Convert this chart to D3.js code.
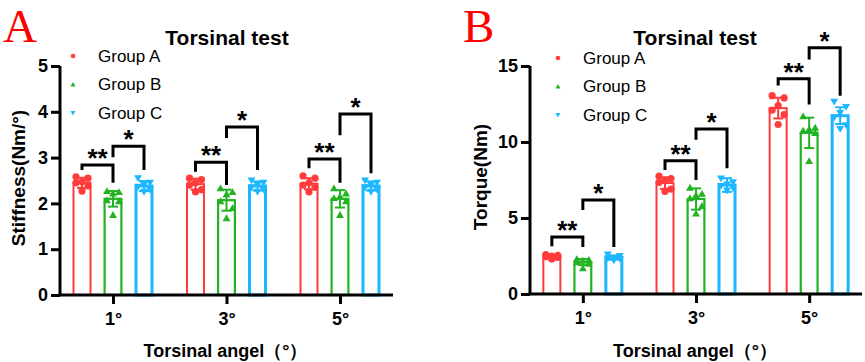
<!DOCTYPE html>
<html><head><meta charset="utf-8">
<script src="https://cdn.jsdelivr.net/npm/d3@7"></script>
<style>
html,body{margin:0;padding:0;background:#fff;}
svg{display:block;font-family:"Liberation Sans",Arial,sans-serif;}
</style></head>
<body><svg id="chart" width="865" height="362"></svg>
<script>
// ---------- data ----------
const categories = ["1°", "3°", "5°"];
const groups = ["Group A", "Group B", "Group C"];
const groupColors = ["#ff3b3b", "#22b322", "#1cb7ff"];

// Panel A: stiffness (Nm/°)
const stiffnessTicks = [0, 1, 2, 3, 4, 5];
const stiffnessMeanA = [2.45, 2.42, 2.43];
const stiffnessMeanB = [2.10, 2.07, 2.10];
const stiffnessMeanC = [2.38, 2.38, 2.38];
const stiffnessSdA = [0.11, 0.12, 0.12];
const stiffnessSdB = [0.17, 0.23, 0.19];
const stiffnessSdC = [0.11, 0.10, 0.10];
const stiffnessPointsA = [[2.58, 2.55, 2.47, 2.45, 2.38, 2.27], [2.55, 2.52, 2.45, 2.40, 2.30, 2.25], [2.60, 2.55, 2.45, 2.40, 2.35, 2.25]];
const stiffnessPointsB = [[2.27, 2.25, 2.22, 2.07, 2.05, 1.75], [2.33, 2.25, 2.20, 2.05, 1.90, 1.68], [2.33, 2.22, 2.15, 2.12, 2.05, 1.75]];
const stiffnessPointsC = [[2.55, 2.45, 2.40, 2.36, 2.30, 2.25], [2.50, 2.45, 2.40, 2.35, 2.30, 2.25], [2.50, 2.45, 2.40, 2.35, 2.30, 2.25]];
// brackets: [category, fromGroup, toGroup, level, leftEnd, rightEnd, label]
const stiffnessBrackets = [
  [0, 0, 1, 2.84, 2.73, 2.45, "**"], [0, 1, 2, 3.25, 3.01, 2.73, "*"],
  [1, 0, 1, 2.90, 2.69, 2.40, "**"], [1, 1, 2, 3.67, 3.43, 2.73, "*"],
  [2, 0, 1, 2.97, 2.77, 2.45, "**"], [2, 1, 2, 3.95, 3.49, 2.66, "*"]
];

// Panel B: torque (Nm)
const torqueTicks = [0, 5, 10, 15];
const torqueMeanA = [2.45, 7.30, 12.23];
const torqueMeanB = [2.10, 6.25, 10.60];
const torqueMeanC = [2.38, 7.17, 11.73];
const torqueSdA = [0.10, 0.38, 0.68];
const torqueSdB = [0.20, 0.70, 1.00];
const torqueSdC = [0.13, 0.45, 0.55];
const torquePointsA = [[2.60, 2.55, 2.50, 2.45, 2.40, 2.30], [7.75, 7.60, 7.45, 7.35, 6.90, 6.75], [13.05, 12.90, 12.40, 12.10, 11.80, 11.15]];
const torquePointsB = [[2.30, 2.25, 2.20, 2.10, 2.00, 1.70], [7.00, 6.60, 6.50, 6.30, 5.80, 5.30], [11.70, 10.95, 10.85, 10.75, 10.60, 8.75]];
const torquePointsC = [[2.60, 2.50, 2.40, 2.35, 2.30, 2.20], [7.60, 7.35, 7.20, 7.10, 6.95, 6.80], [12.65, 12.30, 11.90, 11.60, 11.10, 10.85]];
const torqueBrackets = [
  [0, 0, 1, 3.75, 3.14, 3.09, "**"], [0, 1, 2, 6.18, 5.52, 3.09, "*"],
  [1, 0, 1, 8.76, 8.16, 7.50, "**"], [1, 1, 2, 10.85, 10.15, 8.27, "*"],
  [2, 0, 1, 14.16, 13.71, 12.46, "**"], [2, 1, 2, 16.20, 15.43, 13.05, "*"]
];

// ---------- drawing ----------
const svg = d3.select("#chart");
const jitter = [-6, 6, 0, -6, 6, 0];
const barStroke = [2, 2.2, 3];
const SANS = '"Liberation Sans", Arial, sans-serif';

function drawMarker(g, shape, x, y, s, color) {
  if (shape === 0) {
    g.append("circle").attr("cx", x).attr("cy", y).attr("r", s).attr("fill", color);
  } else {
    const h = s * 1.9, w = s * 1.1;
    const pts = shape === 1
      ? [[x, y - h * 0.55], [x - w, y + h * 0.45], [x + w, y + h * 0.45]]
      : [[x, y + h * 0.55], [x - w, y - h * 0.45], [x + w, y - h * 0.45]];
    g.append("polygon").attr("points", pts.map(p => p.join(",")).join(" ")).attr("fill", color);
  }
}

function panel(cfg) {
  const g = svg.append("g");
  const x = d3.scalePoint().domain(categories).range([cfg.x0, cfg.x1]).padding(0.467);
  const xo = d3.scalePoint().domain(groups).range([-31, 31]);
  const y = d3.scaleLinear().domain([0, cfg.ymax]).range([cfg.y0, 66]);
  const barW = 19;

  groups.forEach((grp, gi) => {
    const col = groupColors[gi];
    categories.forEach((cat, ci) => {
      const cx = x(cat) + xo(grp);
      const m = cfg.means[gi][ci], sd = cfg.sds[gi][ci];
      const sw = barStroke[gi];
      g.append("rect")
        .attr("x", cx - barW / 2 + sw / 2).attr("y", y(m))
        .attr("width", barW - sw).attr("height", y(0) - y(m))
        .attr("fill", "none").attr("stroke", col).attr("stroke-width", sw);
      g.append("line").attr("x1", cx).attr("x2", cx).attr("y1", y(m + sd)).attr("y2", y(m - sd))
        .attr("stroke", col).attr("stroke-width", 2);
      [m + sd, m - sd].forEach(v => {
        g.append("line").attr("x1", cx - 5).attr("x2", cx + 5).attr("y1", y(v)).attr("y2", y(v))
          .attr("stroke", col).attr("stroke-width", 2);
      });
      cfg.points[gi][ci].forEach((v, pi) => {
        drawMarker(g, gi, cx + jitter[pi], y(v), 3.6, col);
      });
    });
  });

  // axes
  const ya = g.append("g").attr("transform", `translate(${cfg.x0},0)`)
    .call(d3.axisLeft(y).tickValues(cfg.ticks).tickFormat(d3.format("d")).tickSize(9).tickSizeOuter(0).tickPadding(3));
  const xa = g.append("g").attr("transform", `translate(0,${cfg.y0})`)
    .call(d3.axisBottom(x).tickSize(9).tickSizeOuter(0).tickPadding(8));
  [ya, xa].forEach(a => {
    a.attr("font-family", SANS).attr("font-size", 18).attr("font-weight", "bold");
    a.select(".domain").attr("stroke", "#000").attr("stroke-width", 3);
    a.selectAll(".tick line").attr("stroke", "#000").attr("stroke-width", 3);
    a.selectAll(".tick text").attr("fill", "#000");
  });
  xa.select(".domain").attr("d", `M${cfg.x0 - 1.5},0H${cfg.x1}`);
  ya.select(".domain").attr("d", `M0,${cfg.y0}V66`);

  // brackets
  cfg.brackets.forEach(b => {
    const cat = categories[b[0]];
    const xl = x(cat) + xo(groups[b[1]]), xr = x(cat) + xo(groups[b[2]]);
    const yl = y(b[3]);
    g.append("path")
      .attr("d", `M${xl},${y(b[4])}V${yl}H${xr}V${y(b[5])}`)
      .attr("fill", "none").attr("stroke", "#000").attr("stroke-width", 3);
    g.append("text").attr("x", (xl + xr) / 2).attr("y", yl + 2)
      .attr("text-anchor", "middle").attr("font-size", 26).attr("font-weight", "bold")
      .text(b[6]);
  });

  // legend
  groups.forEach((grp, gi) => {
    const ly = cfg.legendY + gi * 28.5;
    drawMarker(g, gi, cfg.legendX, ly, 2.3, groupColors[gi]);
    g.append("text").attr("x", cfg.legendX + 25).attr("y", ly).attr("dy", "0.35em")
      .attr("font-size", 17).text(grp);
  });

  // titles
  g.append("text").attr("x", cfg.titleX).attr("y", 45).attr("text-anchor", "middle")
    .attr("font-size", 21).attr("font-weight", "bold").text("Torsinal test");
  g.append("text").attr("x", (cfg.x0 + cfg.x1) / 2 - 1).attr("y", 357).attr("text-anchor", "middle")
    .attr("font-size", 18).attr("font-weight", "bold").text("Torsinal angel（°）");
  g.append("text").attr("transform", `translate(${cfg.yTitleX},${cfg.yTitleY}) rotate(-90)`)
    .attr("text-anchor", "middle").attr("dy", "0.35em")
    .attr("font-size", 19).attr("font-weight", "bold").text(cfg.yTitle);
  g.append("text").attr("x", cfg.letterX).attr("y", 42)
    .style("font-family", '"Liberation Serif", "Times New Roman", serif')
    .attr("font-size", 47).attr("fill", "#ff0000").text(cfg.letter);
}

panel({
  x0: 60, x1: 393, y0: 295, ymax: 5, ticks: stiffnessTicks,
  means: [stiffnessMeanA, stiffnessMeanB, stiffnessMeanC],
  sds: [stiffnessSdA, stiffnessSdB, stiffnessSdC],
  points: [stiffnessPointsA, stiffnessPointsB, stiffnessPointsC],
  brackets: stiffnessBrackets,
  legendX: 73, legendY: 56, titleX: 227,
  yTitle: "Stiffness(Nm/°)", yTitleX: 18, yTitleY: 178,
  letter: "A", letterX: 3
});
panel({
  x0: 530, x1: 862, y0: 294, ymax: 15, ticks: torqueTicks,
  means: [torqueMeanA, torqueMeanB, torqueMeanC],
  sds: [torqueSdA, torqueSdB, torqueSdC],
  points: [torquePointsA, torquePointsB, torquePointsC],
  brackets: torqueBrackets,
  legendX: 558, legendY: 58, titleX: 695,
  yTitle: "Torque(Nm)", yTitleX: 480, yTitleY: 177,
  letter: "B", letterX: 463
});
</script></body></html>
